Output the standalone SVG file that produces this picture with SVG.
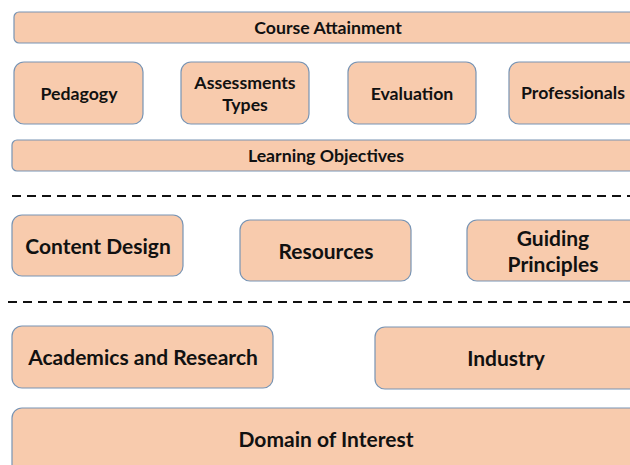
<svg xmlns="http://www.w3.org/2000/svg" width="630" height="465" viewBox="0 0 630 465">
<style>
.b{fill:#F8CBAD;stroke:#7894B4;stroke-width:1.2}
.t{font-family:Lato,"Open Sans","Liberation Sans",sans-serif;font-weight:bold;fill:#111;text-anchor:middle}
.s{font-size:17.7px}
.l{font-size:21px}
.d{stroke:#111;stroke-width:2;stroke-dasharray:9,6;fill:none}
</style>
<rect width="630" height="465" fill="#fff"/>
<g id="course-attainment"><rect class="b" x="14" y="12" width="630" height="31" rx="5"/><text class="t s" x="328" y="34">Course Attainment</text></g>
<g id="pedagogy"><rect class="b" x="14" y="62" width="129" height="62" rx="10"/><text class="t s" x="79" y="100">Pedagogy</text></g>
<g id="assessments"><rect class="b" x="181" y="62" width="128" height="62" rx="10"/><text class="t s" x="245" y="89">Assessments</text><text class="t s" x="245" y="111">Types</text></g>
<g id="evaluation"><rect class="b" x="348" y="62" width="128" height="62" rx="10"/><text class="t s" x="412" y="100">Evaluation</text></g>
<g id="professionals"><rect class="b" x="509" y="62" width="140" height="62" rx="10"/><text class="t s" x="573" y="99">Professionals</text></g>
<g id="learning-objectives"><rect class="b" x="12" y="140" width="630" height="31" rx="5"/><text class="t s" x="326" y="162">Learning Objectives</text></g>
<g id="connectors">
<line class="d" x1="12" y1="196" x2="630" y2="196"/>
<line class="d" x1="8" y1="302" x2="630" y2="302"/>
</g>
<g id="content-design"><rect class="b" x="12" y="215" width="171" height="61" rx="10"/><text class="t l" x="98" y="254">Content Design</text></g>
<g id="resources"><rect class="b" x="240" y="220" width="171" height="61" rx="10"/><text class="t l" x="326" y="259">Resources</text></g>
<g id="guiding-principles"><rect class="b" x="467" y="220" width="180" height="61" rx="10"/><text class="t l" x="553" y="246">Guiding</text><text class="t l" x="553" y="272">Principles</text></g>
<g id="academics"><rect class="b" x="12" y="326" width="261" height="62" rx="10"/><text class="t l" x="143" y="365">Academics and Research</text></g>
<g id="industry"><rect class="b" x="375" y="327" width="270" height="62" rx="10"/><text class="t l" x="506" y="366">Industry</text></g>
<g id="domain"><rect class="b" x="12" y="408" width="630" height="80" rx="10"/><text class="t l" x="326" y="447">Domain of Interest</text></g>
</svg>
